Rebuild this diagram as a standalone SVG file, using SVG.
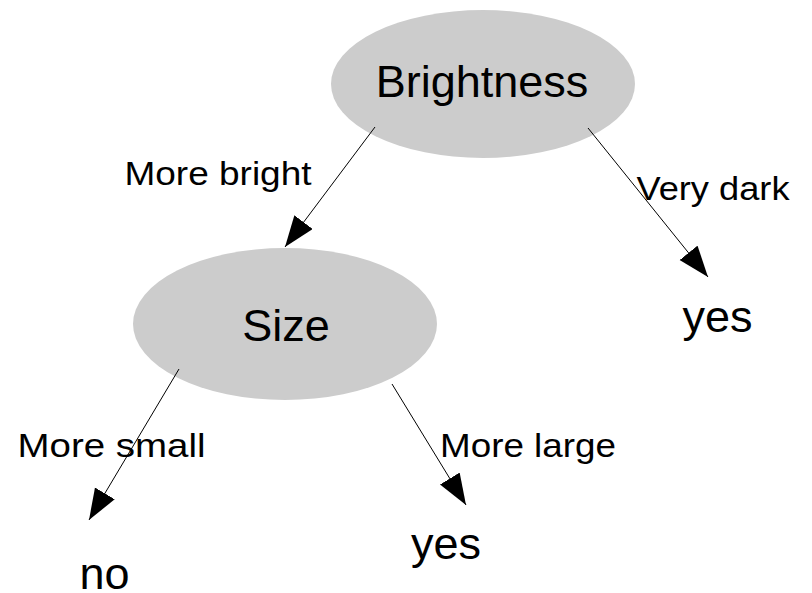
<svg xmlns="http://www.w3.org/2000/svg" width="812" height="593" viewBox="0 0 812 593">
  <style>
    .node { fill: #cccccc; stroke: none; }
    .big { font-family: "Liberation Sans", Arial, sans-serif; font-size: 45px; fill: #000; }
    .lbl { font-family: "Liberation Sans", Arial, sans-serif; font-size: 34px; fill: #000; }
    .edge { stroke: #000; stroke-width: 1; fill: none; marker-end: url(#arrow); }
  </style>
  <defs>
    <marker id="arrow" markerUnits="userSpaceOnUse" markerWidth="32" markerHeight="24" refX="31" refY="11.5" orient="auto" viewBox="0 0 32 24">
      <path d="M0,0 L31,11.5 L0,23 z" fill="#000"/>
    </marker>
  </defs>
  <rect width="812" height="593" fill="#ffffff"/>

  <g id="brightness">
    <ellipse class="node" cx="483" cy="84" rx="152" ry="74"/>
    <text class="big" x="482" y="97" text-anchor="middle" font-size="47">Brightness</text>
  </g>

  <g id="size">
    <ellipse class="node" cx="285" cy="324" rx="152" ry="76"/>
    <text class="big" x="286" y="341" text-anchor="middle">Size</text>
  </g>

  <g id="leaf-yes-dark">
    <text class="big" x="717.5" y="332" text-anchor="middle">yes</text>
  </g>

  <g id="leaf-no">
    <text class="big" x="104.5" y="589" text-anchor="middle">no</text>
  </g>

  <g id="leaf-yes-large">
    <text class="big" x="446" y="559" text-anchor="middle">yes</text>
  </g>

  <g id="connectors">
    <line class="edge" x1="375" y1="127" x2="285" y2="247"/>
    <line class="edge" x1="588" y1="128" x2="708" y2="277"/>
    <line class="edge" x1="179" y1="369" x2="89" y2="520"/>
    <line class="edge" x1="392" y1="384" x2="466" y2="505"/>
  </g>

  <g id="edge-labels">
    <text class="lbl" x="124.5" y="185" textLength="187" lengthAdjust="spacingAndGlyphs">More bright</text>
    <text class="lbl" x="636.5" y="200" textLength="153" lengthAdjust="spacingAndGlyphs">Very dark</text>
    <text class="lbl" x="17.5" y="457" textLength="188" lengthAdjust="spacingAndGlyphs">More small</text>
    <text class="lbl" x="440" y="457" textLength="176" lengthAdjust="spacingAndGlyphs">More large</text>
  </g>
</svg>
